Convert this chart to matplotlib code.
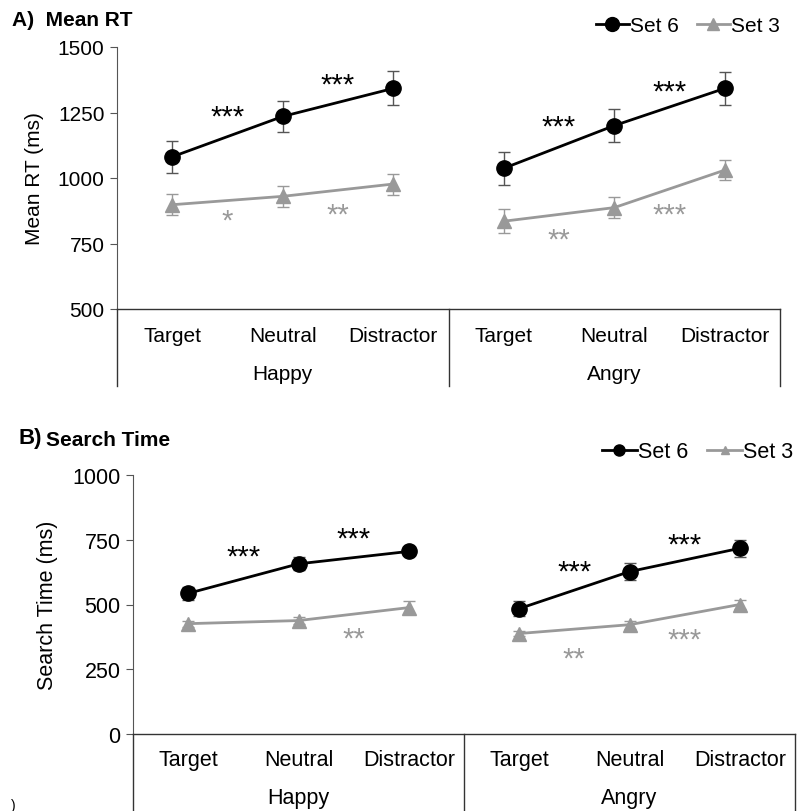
import numpy as np
import matplotlib.pyplot as plt
import matplotlib.transforms as mtrans
from matplotlib.lines import Line2D

plt.rcParams['font.family'] = ['Liberation Sans', 'DejaVu Sans']

conditions = ["Target", "Neutral", "Distractor"]
emotions = ["Happy", "Angry"]

# Panel A: mean RT (ms)
rt_set6 = [1081, 1235, 1342, 1037, 1200, 1342]
rt_set6_err = [62, 60, 65, 62, 62, 62]
rt_set3 = [898, 930, 977, 835, 887, 1030]
rt_set3_err = [40, 40, 40, 45, 40, 38]

# Panel B: search time (ms)
st_set6 = [543, 657, 705, 484, 627, 717]
st_set6_err = [25, 25, 15, 28, 32, 32]
st_set3 = [426, 438, 488, 388, 422, 500]
st_set3_err = [12, 12, 25, 10, 15, 18]

# significance marks: (x between points, y value, text, series)
rt_stars = [(1.0, 1255, "***", "k"), (2.0, 1375, "***", "k"),
            (1.0, 855, "*", "g"), (2.0, 880, "**", "g"),
            (4.0, 1215, "***", "k"), (5.0, 1350, "***", "k"),
            (4.0, 785, "**", "g"), (5.0, 878, "***", "g")]
st_stars = [(1.0, 705, "***", "k"), (2.0, 775, "***", "k"),
            (2.0, 388, "**", "g"),
            (4.0, 647, "***", "k"), (5.0, 752, "***", "k"),
            (4.0, 310, "**", "g"), (5.0, 384, "***", "g")]

BLACK = "#000000"
GREY = "#999999"


def draw_panel(ax, s6, e6, s3, e3, stars, ylim, yticks, ylabel, fs):
    x = np.arange(6) + 0.5
    for grp in range(2):
        idx = slice(grp * 3, grp * 3 + 3)
        ax.errorbar(x[idx], s3[idx], yerr=e3[idx], color=GREY, marker="^",
                    ms=10, lw=2, elinewidth=1, capsize=4, capthick=1, zorder=3)
        ax.errorbar(x[idx], s6[idx], yerr=e6[idx], color=BLACK, marker="o",
                    ms=11, lw=2, elinewidth=1, ecolor="#555555",
                    capsize=4, capthick=1, zorder=4)
    # asterisks sit high in their line box, so nudge them down a little
    star_tr = mtrans.offset_copy(ax.transData, fig=ax.figure, y=-5, units="dots")
    for sx, sy, txt, c in stars:
        ax.text(sx, sy, txt, ha="center", va="center", fontsize=21,
                color=BLACK if c == "k" else GREY, transform=star_tr)
    ax.set_xlim(0, 6)
    ax.set_ylim(*ylim)
    ax.set_yticks(yticks)
    ax.tick_params(axis="y", labelsize=fs, length=5, width=0.8, direction="out",
                   color="#555555", pad=4)
    ax.set_xticks([])
    ax.set_ylabel(ylabel, fontsize=fs, labelpad=10)
    for s in ["top", "right"]:
        ax.spines[s].set_visible(False)
    ax.spines["left"].set_color("#555555")
    ax.spines["bottom"].set_color("#333333")
    ax.spines["bottom"].set_linewidth(1)
    trans = ax.get_xaxis_transform()
    for sep in [0, 3, 6]:
        ax.add_line(Line2D([sep, sep], [0, -0.295], transform=trans,
                           color="#333333", lw=1, clip_on=False))
    for i, c in enumerate(conditions * 2):
        ax.text(i + 0.5, -0.1, c, transform=trans, ha="center", va="center",
                fontsize=fs)
    for g, emo in enumerate(emotions):
        ax.text(g * 3 + 1.5, -0.245, emo, transform=trans, ha="center",
                va="center", fontsize=fs)


fig = plt.figure(figsize=(7.97, 8.12), dpi=100)

axA = fig.add_axes([117 / 797, 1 - 310 / 812, (780 - 117) / 797, (310 - 48) / 812])
draw_panel(axA, rt_set6, rt_set6_err, rt_set3, rt_set3_err, rt_stars,
           (500, 1500), [500, 750, 1000, 1250, 1500], "Mean RT (ms)", 15)

axB = fig.add_axes([133 / 797, 1 - 735 / 812, (795 - 133) / 797, (735 - 476) / 812])
draw_panel(axB, st_set6, st_set6_err, st_set3, st_set3_err, st_stars,
           (0, 1000), [0, 250, 500, 750, 1000], "Search Time (ms)", 15.5)

fig.text(12 / 797, 1 - 20 / 812, "A)  Mean RT", fontsize=15, fontweight="bold",
         va="center", ha="left")
fig.text(18 / 797, 1 - 439 / 812, "B)", fontsize=16, fontweight="bold",
         va="center", ha="left")
fig.text(46 / 797, 1 - 441 / 812, "Search Time", fontsize=15, fontweight="bold",
         va="center", ha="left")
fig.text(11 / 797, 1 - 806 / 812, ")", fontsize=10, va="center", ha="left")

hA = [Line2D([], [], color=BLACK, marker="o", ms=10, lw=2),
      Line2D([], [], color=GREY, marker="^", ms=8, lw=2)]
hB = [Line2D([], [], color=BLACK, marker="o", ms=8, lw=2),
      Line2D([], [], color=GREY, marker="^", ms=6, lw=2)]
axA.legend(hA, ["Set 6", "Set 3"], loc="center right",
           bbox_to_anchor=(1.0, (310 - 27) / 262), ncol=2, frameon=False,
           fontsize=15, handlelength=1.6, handletextpad=0.05,
           columnspacing=0.85, borderaxespad=0, borderpad=0)
axB.legend(hB, ["Set 6", "Set 3"], loc="center right",
           bbox_to_anchor=(0.997, (735 - 453) / 259), ncol=2, frameon=False,
           fontsize=15.5, handlelength=1.6, handletextpad=0.05,
           columnspacing=0.9, borderaxespad=0, borderpad=0)

fig.savefig("out.png", dpi=100)
